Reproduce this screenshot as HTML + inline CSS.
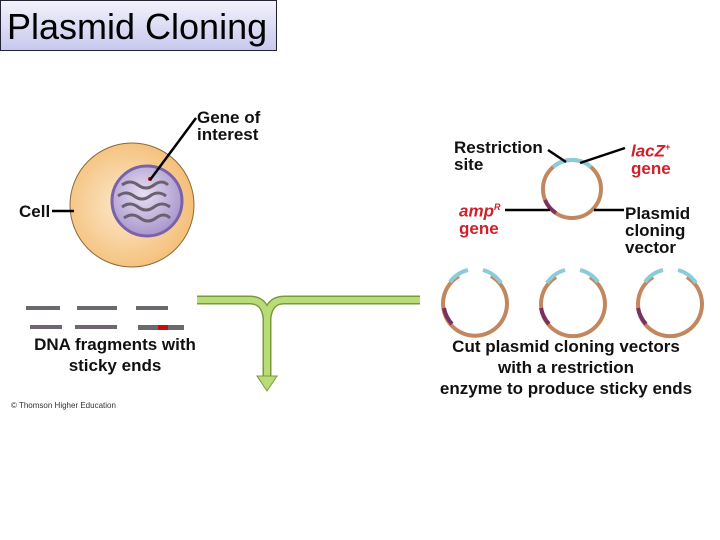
<!DOCTYPE html>
<html><head><style>
body{margin:0;width:720px;height:540px;background:#fff;position:relative;overflow:hidden;font-family:"Liberation Sans",sans-serif}
.t{position:absolute;left:0;top:0;width:277px;height:51px;border:1px solid #223;background:linear-gradient(#f2f2fb,#c8c8ee);font-size:36px;line-height:51px;padding-left:6px;box-sizing:border-box}
.l{position:absolute;font-weight:bold;font-size:17px;line-height:17px;color:#111}
.r{color:#d0202a;font-style:italic}
</style></head><body>
<div class="t">Plasmid Cloning</div>
<svg width="720" height="540" style="position:absolute;left:0;top:0">
<defs><radialGradient id="c" cx="0.45" cy="0.5" r="0.6"><stop offset="0" stop-color="#fce9cf"/><stop offset="0.7" stop-color="#f6c98c"/><stop offset="1" stop-color="#f3bb72"/></radialGradient>
<radialGradient id="n" cx="0.45" cy="0.4" r="0.6"><stop offset="0" stop-color="#e6e0f3"/><stop offset="1" stop-color="#a996cc"/></radialGradient></defs>
<circle cx="132" cy="205" r="62" fill="url(#c)" stroke="#8a6a3a" stroke-width="1"/>
<circle cx="147" cy="201" r="35" fill="url(#n)" stroke="#7a62aa" stroke-width="3"/>
<g fill="none" stroke="#6a6070" stroke-width="3">
<path d="M122 185 q8 -6 16 0 t16 0 t14 0"/><path d="M118 196 q8 -6 16 0 t16 0 t16 0"/><path d="M122 207 q8 -6 16 0 t16 0 t16 0"/><path d="M124 218 q8 -6 16 0 t16 0 t14 0"/></g>
<circle cx="150" cy="179" r="2" fill="#c00"/>
<line x1="196" y1="118" x2="150" y2="180" stroke="#000" stroke-width="2.5"/>
<line x1="52" y1="211" x2="74" y2="211" stroke="#000" stroke-width="2.5"/>
<g fill="#6d6870"><rect x="26" y="306" width="34" height="4"/><rect x="77" y="306" width="40" height="4"/><rect x="136" y="306" width="32" height="4"/><rect x="30" y="325" width="32" height="4"/><rect x="75" y="325" width="42" height="4"/><rect x="138" y="325" width="46" height="5"/></g>
<rect x="158" y="325" width="10" height="5" fill="#c01010"/>
<g fill="none" stroke="#7a9a3a" stroke-width="9"><path d="M197 300 H250 Q265 300 267 318 V378"/><path d="M420 300 H284 Q269 300 267 318"/></g>
<g fill="none" stroke="#b8dc78" stroke-width="6"><path d="M197 300 H250 Q265 300 267 318 V378"/><path d="M420 300 H284 Q269 300 267 318"/></g>
<path d="M257 376 L277 376 L267 391 Z" fill="#b8dc78" stroke="#7a9a3a"/>
<g fill="none" stroke-width="4">
<circle cx="572" cy="189" r="29" stroke="#c2875e"/>
<path d="M553 167 A29 29 0 0 1 591 167" stroke="#8ccbd8"/>
<path d="M545 200 A29 29 0 0 0 556 213" stroke="#7a3060"/>
<g stroke="#c2875e"><path d="M459 276 A32 32 0 1 0 491 276"/><path d="M556 277 A32 32 0 1 0 590 277"/><path d="M653 277 A32 32 0 1 0 687 277"/></g>
<g stroke="#8ccbd8"><path d="M450 282 A32 32 0 0 1 468 270"/><path d="M483 270 A32 32 0 0 1 501 283"/><path d="M547 283 A32 32 0 0 1 565 270"/><path d="M580 270 A32 32 0 0 1 598 282"/><path d="M645 282 A32 32 0 0 1 663 270"/><path d="M678 270 A32 32 0 0 1 696 283"/></g>
<g stroke="#7a3060"><path d="M444 308 A32 32 0 0 0 452 324"/><path d="M541 308 A32 32 0 0 0 549 324"/><path d="M638 308 A32 32 0 0 0 646 324"/></g>
</g>
<g stroke="#000" stroke-width="2.5"><line x1="548" y1="150" x2="566" y2="162"/><line x1="580" y1="163" x2="625" y2="148"/><line x1="505" y1="210" x2="550" y2="210"/><line x1="594" y1="210" x2="624" y2="210"/></g>
</svg>
<div class="l" style="left:197px;top:109px">Gene of<br>interest</div>
<div class="l" style="left:19px;top:203px">Cell</div>
<div class="l" style="left:0;width:230px;top:334px;text-align:center;line-height:21px">DNA fragments with<br>sticky ends</div>
<div style="position:absolute;left:11px;top:401px;font-size:8px;color:#333">© Thomson Higher Education</div>
<div class="l" style="left:454px;top:139px">Restriction<br>site</div>
<div class="l r" style="left:631px;top:139px">lacZ<sup style="font-size:9px">+</sup><br><span style="font-style:normal">gene</span></div>
<div class="l r" style="left:459px;top:199px">amp<sup style="font-size:9px">R</sup><br><span style="font-style:normal">gene</span></div>
<div class="l" style="left:625px;top:205px">Plasmid<br>cloning<br>vector</div>
<div class="l" style="left:416px;width:300px;top:336px;text-align:center;line-height:21px">Cut plasmid cloning vectors<br>with a restriction<br>enzyme to produce sticky ends</div>
</body></html>
